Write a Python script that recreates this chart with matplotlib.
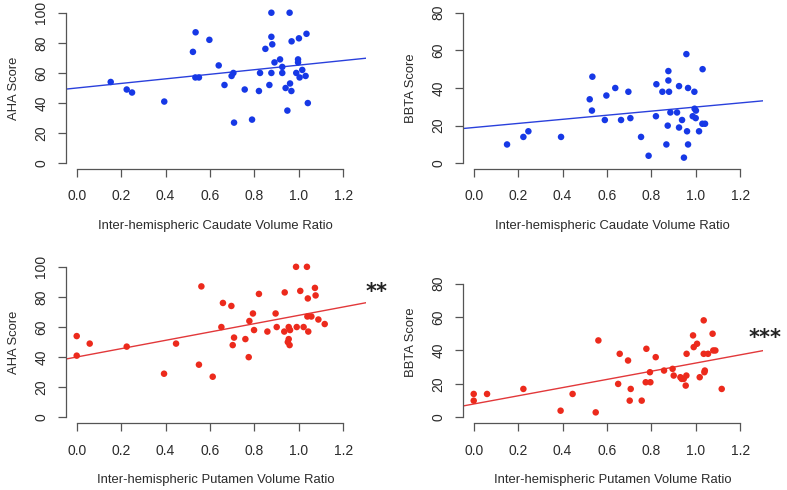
import matplotlib
matplotlib.use("Agg")
import matplotlib.pyplot as plt
import numpy as np

plt.rcParams['font.family'] = ['Liberation Sans', 'DejaVu Sans']

# ---- data ----
caud_aha_x = [0.153, 0.225, 0.249, 0.394, 0.523, 0.535, 0.597, 0.534, 0.55, 0.639, 0.665, 0.697,
              0.705, 0.708, 0.756, 0.789, 0.82, 0.825, 0.849, 0.867, 0.876, 0.876, 0.88, 0.876,
              0.89, 0.915, 0.925, 0.925, 0.94, 0.948, 0.958, 0.967, 0.96, 0.966, 0.988, 0.996,
              0.996, 1.0, 1.003, 1.015, 1.03, 1.034, 1.04]
caud_aha_y = [54, 49, 47, 41, 74, 87, 82, 57, 57, 65, 52, 58,
              60, 27, 49, 29, 48, 60, 76, 52, 100, 84, 79, 60,
              67, 69, 64, 60, 50, 35, 100, 81, 53, 48, 60, 69,
              67, 83, 57, 62, 58, 86, 40]

caud_bbta_x = [0.15, 0.2235, 0.246, 0.393, 0.522, 0.534, 0.532, 0.59, 0.597, 0.637, 0.663, 0.696,
               0.705, 0.753, 0.787, 0.82, 0.822, 0.849, 0.867, 0.873, 0.876, 0.876, 0.879, 0.885,
               0.915, 0.924, 0.924, 0.9375, 0.946, 0.957, 0.96, 0.9645, 0.9645, 0.9855, 0.993,
               0.994, 0.999, 1.0, 1.014, 1.03, 1.029, 1.041]
caud_bbta_y = [10, 14, 17, 14, 34, 46, 28, 23, 36, 40, 23, 38,
               24, 14, 4, 25, 42, 38, 10, 20, 49, 44, 38, 27,
               27, 19, 41, 23, 3, 58, 17, 10, 40, 25, 38,
               29, 24, 28, 17, 50, 21, 21]

put_aha_x = [0.0, 0.0, 0.0585, 0.225, 0.393, 0.447, 0.55, 0.561, 0.612, 0.651, 0.658, 0.696,
             0.702, 0.708, 0.759, 0.774, 0.777, 0.793, 0.798, 0.82, 0.858, 0.895, 0.9, 0.936,
             0.934, 0.95, 0.954, 0.954, 0.96, 0.958, 0.987, 0.99, 1.006, 1.021, 1.036, 1.04,
             1.038, 1.042, 1.056, 1.072, 1.075, 1.0875, 1.116]
put_aha_y = [54, 41, 49, 47, 29, 49, 35, 87, 27, 60, 76, 74,
             48, 53, 52, 40, 64, 69, 58, 82, 57, 69, 60, 83,
             57, 50, 52, 60, 58, 48, 100, 60, 84, 60, 100, 79,
             67, 57, 67, 86, 81, 65, 62]

put_bbta_x = [0.0, 0.0, 0.06, 0.2235, 0.391, 0.445, 0.549, 0.561, 0.65, 0.657, 0.6945, 0.702,
              0.7065, 0.756, 0.774, 0.777, 0.793, 0.795, 0.819, 0.8565, 0.895, 0.9, 0.93, 0.936,
              0.945, 0.954, 0.957, 0.958, 0.987, 0.99, 1.005, 1.017, 1.035, 1.035, 1.038, 1.04,
              1.0545, 1.075, 1.078, 1.0875, 1.116]
put_bbta_y = [14, 10, 14, 17, 4, 14, 3, 46, 20, 38, 34, 10,
              17, 10, 21, 41, 27, 21, 36, 28, 29, 25, 24, 23,
              23, 19, 25, 38, 49, 42, 44, 24, 58, 38, 27, 28,
              38, 50, 40, 40, 17]

# regression lines (intercept, slope) as shown
lines_icpt = [50.0, 19.0, 40.1, 8.0]
lines_slope = [15.2, 10.9, 27.7, 24.5]

x_labels = ["Inter-hemispheric Caudate Volume Ratio", "Inter-hemispheric Caudate Volume Ratio",
            "Inter-hemispheric Putamen Volume Ratio", "Inter-hemispheric Putamen Volume Ratio"]
y_labels = ["AHA Score", "BBTA Score", "AHA Score", "BBTA Score"]
signif = ["", "", "**", "***"]
signif_x = [None, None, 1.351, 1.311]
signif_y = [None, None, 79.2, 44.0]
x_ticks = [0.0, 0.2, 0.4, 0.6, 0.8, 1.0, 1.2]
y_ticks_list = [[0, 20, 40, 60, 80, 100], [0, 20, 40, 60, 80],
                [0, 20, 40, 60, 80, 100], [0, 20, 40, 60, 80]]
y_max = [100, 80, 100, 90]

W, H = 787, 490
fig = plt.figure(figsize=(W / 100, H / 100), dpi=100)

blue = '#1638e6'
red = '#ec2a1c'
pt_colors = [blue, blue, red, red]
ln_colors = ['#2a40dc', '#2a40dc', '#e2383a', '#e2383a']
txt = '#2b2b2b'
axc = '#555555'

xs = [caud_aha_x, caud_bbta_x, put_aha_x, put_bbta_x]
ys = [caud_aha_y, caud_bbta_y, put_aha_y, put_bbta_y]

lefts = [65.6, 462.6, 65.6, 462.6]
tops = [6.7, 6.7, 260.8, 260.8]
pw, ph = 300.0, 162.6

for i in range(4):
    ax = fig.add_axes([lefts[i] / W, 1 - (tops[i] + ph) / H, pw / W, ph / H])
    ax.set_xlim(-0.05, 1.30)
    ym = y_max[i]
    ax.set_ylim(-0.04 * ym, 1.04 * ym)
    ax.scatter(xs[i], ys[i], s=22, color=pt_colors[i], edgecolors='none', zorder=3)
    xx = np.array(ax.get_xlim())
    ax.plot(xx, lines_icpt[i] + lines_slope[i] * xx, color=ln_colors[i], lw=1.0, zorder=2)
    for s in ['top', 'right']:
        ax.spines[s].set_visible(False)
    ax.spines['left'].set_bounds(0, y_ticks_list[i][-1])
    ax.spines['bottom'].set_bounds(0, 1.2)
    for s in ['left', 'bottom']:
        ax.spines[s].set_color(axc)
        ax.spines[s].set_linewidth(0.9)
    ax.set_xticks(x_ticks)
    ax.set_xticklabels([f"{v:.1f}" for v in x_ticks])
    ax.set_yticks(y_ticks_list[i])
    ax.set_yticklabels([str(v) for v in y_ticks_list[i]], rotation=90, va='center')
    ax.tick_params(axis='both', length=5.5, width=0.9, color=axc, labelcolor=txt, labelsize=10)
    ax.tick_params(axis='x', pad=9)
    ax.tick_params(axis='y', pad=7)
    ax.set_xlabel(x_labels[i], fontsize=9.4, color=txt, labelpad=12)
    ax.set_ylabel(y_labels[i], fontsize=9.4, color=txt, labelpad=10)
    if signif[i]:
        ax.text(signif_x[i], signif_y[i], signif[i], family='DejaVu Sans',
                fontsize=15, fontweight='bold', color='#222222', ha='center', va='baseline',
                clip_on=False)

fig.savefig("out.png", dpi=100)
